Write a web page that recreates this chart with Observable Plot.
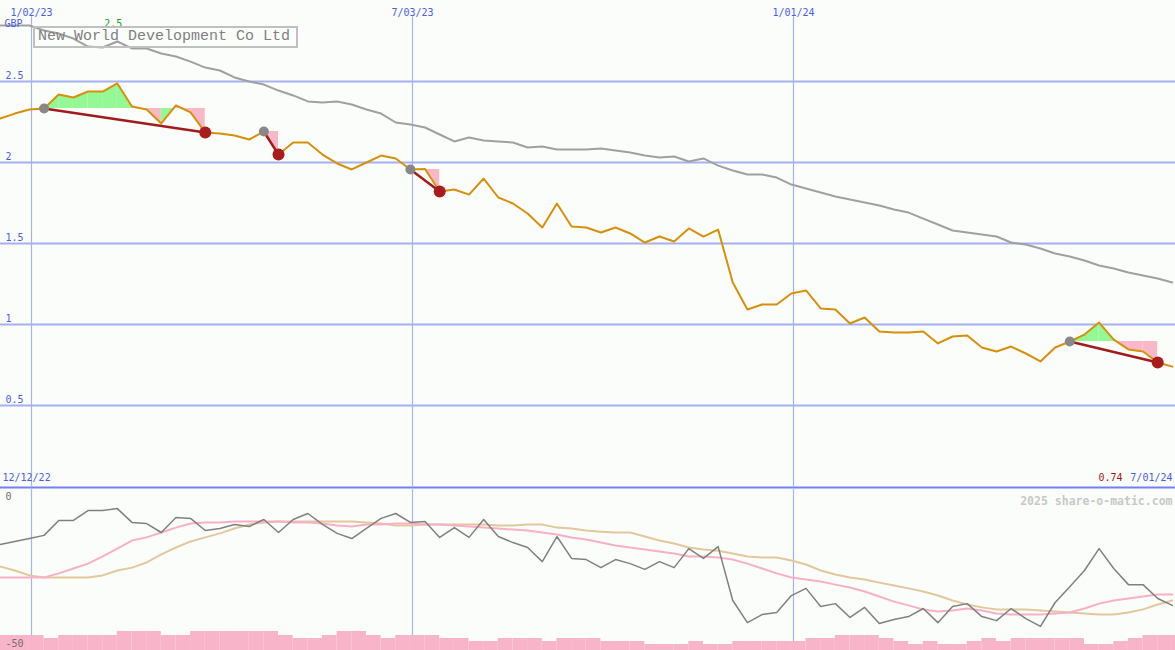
<!DOCTYPE html>
<html>
<head>
<meta charset="utf-8">
<script src="https://cdn.jsdelivr.net/npm/d3@7"></script>
<script src="https://cdn.jsdelivr.net/npm/@observablehq/plot@0.6"></script>
<style>
  html, body { margin: 0; padding: 0; background: #fbfdfb; }
  #wrap { position: relative; width: 1175px; height: 650px; overflow: hidden; background: #fbfdfb; }
  #top, #bot, #vol { position: absolute; left: 0; }
  #top { top: 0; }
  #bot { top: 489px; }
  #vol { top: 620px; }
  #title {
    position: absolute; left: 33px; top: 26px; width: 258px; height: 18px;
    border: 2px solid #c0c0c0; padding-left: 3px;
    font: 15px/18px "Liberation Mono", "DejaVu Sans Mono", monospace; color: #808080;
    white-space: pre;
  }
</style>
</head>
<body>
<div id="wrap">
  <div id="top"></div>
  <div id="bot"></div>
  <div id="vol"></div>
  <div id="title"></div>
</div>
<script>
// ---------------- data (weekly samples, first sample week of 18 Dec 2022) ----------------
const firstWeek = Date.UTC(2022, 11, 18);
const title = "New World Development Co Ltd";
const currency = "GBP";

const price = [2.272, 2.302, 2.327, 2.333, 2.420, 2.401, 2.438, 2.438, 2.488, 2.346,
  2.327, 2.241, 2.352, 2.309, 2.185, 2.179, 2.167, 2.142, 2.191, 2.049,
  2.123, 2.123, 2.049, 1.994, 1.957, 2.000, 2.043, 2.025, 1.957, 1.960,
  1.821, 1.833, 1.802, 1.901, 1.784, 1.747, 1.685, 1.599, 1.747, 1.605,
  1.599, 1.568, 1.599, 1.562, 1.506, 1.543, 1.512, 1.593, 1.543, 1.586,
  1.259, 1.093, 1.123, 1.123, 1.191, 1.210, 1.099, 1.093, 1.006, 1.043,
  0.957, 0.951, 0.951, 0.957, 0.883, 0.926, 0.932, 0.858, 0.833, 0.864,
  0.821, 0.772, 0.858, 0.895, 0.938, 1.012, 0.907, 0.846, 0.833, 0.765, 0.740];

const movingAvg = [2.846, 2.846, 2.846, 2.815, 2.796, 2.765, 2.716, 2.710, 2.747, 2.704,
  2.704, 2.673, 2.654, 2.623, 2.586, 2.568, 2.525, 2.500, 2.481, 2.444,
  2.414, 2.377, 2.370, 2.377, 2.358, 2.327, 2.302, 2.247, 2.235, 2.216,
  2.173, 2.130, 2.154, 2.136, 2.130, 2.123, 2.093, 2.099, 2.080, 2.080,
  2.080, 2.086, 2.074, 2.062, 2.043, 2.031, 2.037, 2.006, 2.025, 1.981,
  1.951, 1.926, 1.926, 1.907, 1.864, 1.840, 1.815, 1.790, 1.772, 1.753,
  1.735, 1.710, 1.691, 1.654, 1.617, 1.580, 1.568, 1.556, 1.543, 1.506,
  1.494, 1.469, 1.438, 1.420, 1.395, 1.364, 1.346, 1.321, 1.302, 1.284, 1.259];

const oscillator = [-16.7, -15.6, -14.6, -13.5, -8.3, -8.3, -4.9, -4.9, -4.2, -9.0,
  -9.4, -12.5, -7.3, -7.6, -11.8, -11.1, -9.7, -10.4, -8.0, -12.5,
  -8.0, -5.9, -9.7, -12.8, -14.6, -11.1, -7.6, -5.9, -9.0, -8.7,
  -14.2, -10.8, -14.2, -8.0, -13.9, -16.0, -17.7, -22.6, -13.9, -21.5,
  -21.9, -24.7, -21.9, -23.3, -25.3, -22.6, -24.7, -18.1, -21.5, -17.4,
  -36.1, -43.8, -41.0, -40.3, -34.4, -31.9, -38.2, -37.2, -42.0, -38.5,
  -44.1, -42.7, -41.7, -38.9, -43.8, -38.2, -37.2, -41.7, -43.1, -38.9,
  -42.4, -45.1, -36.8, -31.3, -25.7, -18.1, -25.0, -30.6, -30.6, -35.4, -37.8];

const oscFast = [-28.1, -28.1, -28.1, -28.1, -26.7, -25.0, -23.3, -20.8, -18.1, -15.3,
  -14.2, -12.5, -10.8, -9.4, -9.0, -9.0, -8.7, -8.7, -8.7, -8.7,
  -9.0, -9.0, -9.4, -10.1, -10.4, -9.7, -9.7, -9.4, -9.4, -9.7,
  -9.7, -10.1, -10.4, -10.8, -11.1, -11.5, -11.8, -12.5, -13.2, -14.2,
  -14.9, -16.0, -17.0, -17.7, -18.4, -19.1, -19.8, -20.8, -20.8, -21.2,
  -21.9, -23.3, -25.0, -26.7, -28.1, -28.8, -29.5, -30.6, -31.6, -33.0,
  -34.7, -36.5, -37.8, -39.2, -39.9, -39.6, -38.9, -39.6, -40.6, -41.0,
  -41.0, -41.0, -40.6, -40.3, -38.9, -37.2, -36.1, -35.4, -34.7, -34.0, -34.0];

const oscSlow = [-24.3, -25.7, -27.4, -28.1, -28.1, -28.1, -28.1, -27.4, -25.7, -24.7,
  -22.9, -20.1, -17.7, -15.6, -14.2, -12.8, -11.1, -9.7, -9.0, -8.7,
  -8.7, -8.7, -8.7, -8.7, -8.7, -9.0, -9.4, -10.1, -10.1, -9.7,
  -9.7, -9.7, -9.7, -9.7, -10.1, -10.1, -9.7, -9.7, -10.8, -11.1,
  -11.8, -12.2, -12.5, -12.5, -13.9, -15.3, -16.3, -17.7, -18.4, -18.8,
  -19.8, -20.8, -21.2, -21.2, -22.2, -23.6, -25.7, -27.1, -28.1, -28.8,
  -29.9, -30.9, -31.9, -33.0, -34.4, -36.1, -37.5, -38.5, -39.2, -39.2,
  -39.2, -39.6, -39.9, -40.3, -40.6, -41.0, -41.0, -40.3, -39.2, -37.5, -36.1];

const volume = [15, 15, 15, 12, 15, 15, 15, 15, 19, 19,
  19, 15, 15, 19, 19, 19, 19, 19, 19, 15,
  12, 12, 15, 19, 19, 15, 12, 15, 15, 15,
  12, 12, 9, 9, 12, 12, 12, 9, 12, 12,
  12, 9, 9, 9, 6, 6, 6, 9, 6, 6,
  9, 9, 9, 9, 9, 12, 12, 15, 15, 15,
  12, 9, 6, 9, 6, 6, 9, 12, 9, 12,
  12, 12, 12, 12, 6, 6, 9, 12, 15, 15, 15];

// trade signals: index of entry week and exit week
const signalStart = [3, 18, 28, 73];
const signalEnd = [14, 19, 30, 79];

const priceTicks = [0.5, 1, 1.5, 2, 2.5];
const dateTicks = ["2023-01-02", "2023-07-03", "2024-01-01"];
const dateTickLabels = ["1/02/23", "7/03/23", "1/01/24"];
const firstLabel = "12/12/22";
const lastLabel = "7/01/24";
const oscLabels = [0, -50];
const watermark = "2025 share-o-matic.com";

// ---------------- build ----------------
const font = "'DejaVu Sans Mono', 'Liberation Mono', monospace";
const blue = "#4c5ce8";
const gridColor = "#a6b2f0";
const xDomain = [new Date(Date.UTC(2022, 11, 18, 4, 30)), new Date(Date.UTC(2024, 6, 1, 12))];
const tickDates = dateTicks.map(d => new Date(d + "T00:00:00Z"));

const rows = price.map((p, i) => ({
  date: d3.utcDay.offset(new Date(firstWeek), 7 * i),
  price: p, ma: movingAvg[i], osc: oscillator[i], fast: oscFast[i], slow: oscSlow[i], vol: volume[i]
}));

const fills = [];
signalStart.forEach((s, j) => {
  const e = signalEnd[j];
  const level = rows[s].price;
  for (let i = s; i < e; i++) {
    const color = rows[i + 1].price >= level ? "#94f894" : "#f8b8c8";
    fills.push({id: j + "-" + i, date: rows[i].date, price: rows[i].price, level, color});
    fills.push({id: j + "-" + i, date: rows[i + 1].date, price: rows[i + 1].price, level, color});
  }
});
const sigs = signalStart.map((s, j) => ({
  d1: rows[s].date, p1: rows[s].price, d2: rows[signalEnd[j]].date, p2: rows[signalEnd[j]].price
}));
const maxRow = rows.reduce((a, b) => (b.price > a.price ? b : a));
const lastRow = rows[rows.length - 1];

const topPlot = Plot.plot({
  width: 1175, height: 489,
  marginTop: 0, marginBottom: 3, marginLeft: 0, marginRight: 0,
  x: {type: "utc", domain: xDomain, axis: null},
  y: {domain: [0, 3], axis: null},
  color: {type: "identity"},
  style: {background: "transparent", fontFamily: font, fontSize: "10px", overflow: "hidden"},
  marks: [
    Plot.ruleY(priceTicks, {stroke: gridColor, strokeWidth: 2}),
    Plot.ruleX(tickDates, {y1: 0, y2: 2.9, stroke: gridColor, strokeWidth: 1.2}),
    Plot.ruleY([0], {stroke: "#7282f0", strokeWidth: 2, dy: 1}),
    Plot.line(rows, {x: "date", y: "ma", stroke: "#a0a0a0", strokeWidth: 2}),
    Plot.areaY(fills, {x: "date", y1: "level", y2: "price", z: "id", fill: "color"}),
    Plot.line(rows, {x: "date", y: "price", stroke: "#d8900a", strokeWidth: 2}),
    Plot.link(sigs, {x1: "d1", y1: "p1", x2: "d2", y2: "p2", stroke: "#a01c1c", strokeWidth: 2.5}),
    Plot.dot(sigs, {x: "d1", y: "p1", r: 5, fill: "#888888"}),
    Plot.dot(sigs, {x: "d2", y: "p2", r: 6, fill: "#a81c1c"}),
    Plot.text(tickDates, {x: d => d, text: (d, i) => dateTickLabels[i], frameAnchor: "top", dy: 8, fill: blue}),
    Plot.text([currency], {frameAnchor: "top-left", dx: 4, dy: 19, textAnchor: "start", fill: blue}),
    Plot.text(priceTicks, {y: d => d, text: d => String(d), frameAnchor: "left", dx: 5, dy: -6, textAnchor: "start", fill: blue}),
    Plot.text([maxRow], {x: "date", text: d => d3.format(".1f")(d.price), frameAnchor: "top", dy: 19, dx: -4, fill: "#20a020"}),
    Plot.text([firstLabel], {frameAnchor: "bottom-left", dx: 2, dy: -6, textAnchor: "start", fill: blue}),
    Plot.text([lastRow], {text: d => d3.format(".2f")(d.price), frameAnchor: "bottom-right", dx: -53, dy: -6, textAnchor: "end", fill: "#a01818"}),
    Plot.text([lastLabel], {frameAnchor: "bottom-right", dx: -3, dy: -6, textAnchor: "end", fill: blue})
  ]
});
document.getElementById("top").appendChild(topPlot);

const botPlot = Plot.plot({
  width: 1175, height: 161,
  marginTop: 7, marginBottom: 10, marginLeft: 0, marginRight: 0,
  x: {type: "utc", domain: xDomain, axis: null},
  y: {domain: [-50, 0], axis: null},
  style: {background: "transparent", fontFamily: font, fontSize: "10px", overflow: "hidden"},
  marks: [
    Plot.ruleX(tickDates, {y1: -53.4, y2: 2.4, stroke: gridColor, strokeWidth: 1.2}),
    Plot.line(rows, {x: "date", y: "slow", stroke: "#e2c89a", strokeWidth: 2}),
    Plot.line(rows, {x: "date", y: "fast", stroke: "#f8b0c8", strokeWidth: 2}),
    Plot.line(rows, {x: "date", y: "osc", stroke: "#808080", strokeWidth: 1.5}),
    Plot.text([oscLabels[0]], {y: d => d, text: d => String(d), frameAnchor: "left", dx: 5, textAnchor: "start", fill: "#707070"}),
    Plot.text([watermark], {frameAnchor: "top-right", dx: -3, textAnchor: "end", fill: "#c8c8c8", fontWeight: "bold", fontSize: 11.5})
  ]
});
document.getElementById("bot").appendChild(botPlot);

const volPlot = Plot.plot({
  width: 1175, height: 30,
  marginTop: 0, marginBottom: 0, marginLeft: 0, marginRight: 0,
  x: {type: "utc", domain: xDomain, axis: null},
  y: {domain: [0, 30], axis: null},
  style: {background: "transparent", fontFamily: font, fontSize: "10px", overflow: "hidden"},
  marks: [
    Plot.rectY(rows, {x1: "date", x2: d => d3.utcDay.offset(d.date, 7), y1: 0, y2: "vol", fill: "#f8b4c8", inset: 0}),
    Plot.text([oscLabels[1]], {frameAnchor: "top-left", dx: 5, dy: 19, textAnchor: "start", text: d => String(d), fill: "#707070"})
  ]
});
document.getElementById("vol").appendChild(volPlot);

document.getElementById("title").textContent = title;
</script>
</body>
</html>
